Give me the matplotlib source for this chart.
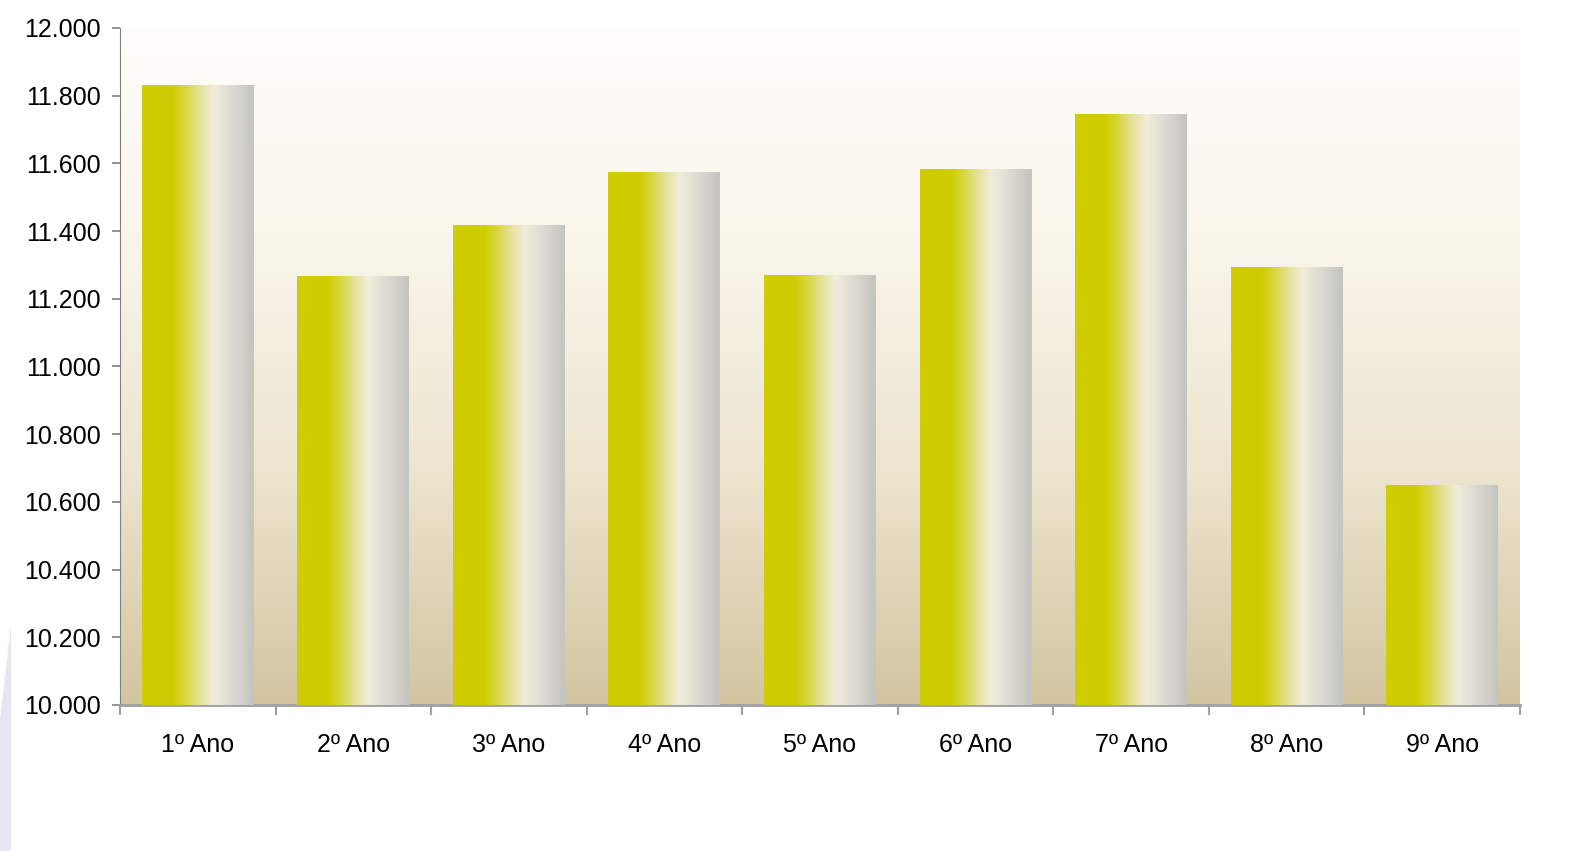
import numpy as np
import matplotlib
matplotlib.use('Agg')
import matplotlib.pyplot as plt
from matplotlib.colors import LinearSegmentedColormap
from matplotlib.patches import Polygon
from matplotlib.ticker import FuncFormatter, MultipleLocator, FixedLocator

# data
categories = ['1º Ano', '2º Ano', '3º Ano', '4º Ano', '5º Ano',
              '6º Ano', '7º Ano', '8º Ano', '9º Ano']
values = [11832, 11268, 11417, 11576, 11270, 11582, 11746, 11295, 10651]

plt.rcParams['font.family'] = ['Liberation Sans Narrow', 'Liberation Sans', 'DejaVu Sans']

fig = plt.figure(figsize=(15.92, 8.51), dpi=100)
ax = fig.add_axes([120 / 1592, 1 - 705 / 851, 1400 / 1592, 677 / 851])

# lavender decoration at lower left
fig.patches.append(Polygon([(0, 1 - 720 / 851), (11 / 1592, 1 - 625 / 851),
                            (11 / 1592, 0), (0, 0)], closed=True,
                           transform=fig.transFigure, facecolor='#E6E6F2',
                           edgecolor='none', zorder=0))

# background gradient of plot area
bg_cmap = LinearSegmentedColormap.from_list(
    'bg', [(0, '#D3C5A0'), (0.35, '#EDE5CF'), (0.7, '#FAF6EC'), (1, '#FEFDFB')])
ax.imshow(np.linspace(0, 1, 256).reshape(-1, 1), cmap=bg_cmap, origin='lower',
          extent=[0, 1, 0, 1], transform=ax.transAxes, aspect='auto', zorder=0)

x = np.arange(len(categories))
bars = ax.bar(x, values, width=0.72, color='none', edgecolor='none', zorder=2)

bar_cmap = LinearSegmentedColormap.from_list(
    'bar', [(0, '#CFCC00'), (0.28, '#D0CD05'), (0.40, '#DAD748'),
            (0.52, '#E6E29C'), (0.64, '#F2ECDC'), (0.8, '#DDDBD2'), (1, '#C4C4C0')])
grad = np.linspace(0, 1, 256).reshape(1, -1)
for b in bars:
    x0, w, h = b.get_x(), b.get_width(), b.get_height()
    im = ax.imshow(grad, cmap=bar_cmap, aspect='auto', zorder=3,
                   extent=[x0, x0 + w, 10000, h])
    im.set_clip_path(b)

ax.set_xlim(-0.5, len(categories) - 0.5)
ax.set_ylim(10000, 12000)

ax.yaxis.set_major_locator(MultipleLocator(200))
ax.yaxis.set_major_formatter(FuncFormatter(lambda v, p: f'{v:,.0f}'.replace(',', '.')))
ax.set_xticks(x)
ax.set_xticklabels(categories)
ax.xaxis.set_minor_locator(FixedLocator(np.arange(-0.5, len(categories), 1)))
ax.tick_params(axis='x', which='major', length=0, pad=20, labelsize=18)
ax.tick_params(axis='x', which='minor', length=7, color='#A0A0A0', width=1.5)
ax.tick_params(axis='y', length=6, color='#808080', width=1.2, labelsize=18, pad=8)

for s in ['top', 'right']:
    ax.spines[s].set_visible(False)
ax.spines['left'].set_color('#808080')
ax.spines['bottom'].set_color('#A0A0A0')
ax.spines['bottom'].set_linewidth(2)

fig.savefig('out.png', dpi=100)
